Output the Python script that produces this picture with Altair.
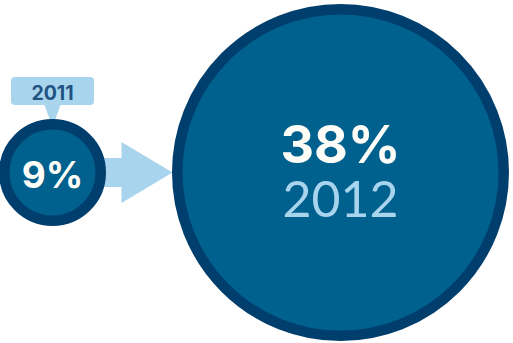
import altair as alt
import pandas as pd

# ---- data ----
years = [2011, 2012]
shares = [9, 38]
share_labels = ["9%", "38%"]
year_labels = ["2011", "2012"]

df = pd.DataFrame({
    "year": years,
    "share": shares,
    "label": share_labels,
    "year_label": year_labels,
})

# ---- style ----
DARK = "#003f6d"
MID = "#00608e"
LIGHT = "#a8d4ed"
WHITE = "#fffdf8"
LABEL_TXT = "#1f5382"
FONT = "Lato"
BOLD_FONT = "Inter"
CY = 172.5

x_enc = alt.X("year:Q", scale=alt.Scale(domain=[2011, 2012], range=[52.5, 340.5]), axis=None)
base = alt.Chart(df)

arrow_path = "M 40 -14.5 L 69 -14.5 L 69 -30.5 L 120 0 L 69 30.5 L 69 14.5 L 40 14.5 Z"
callout_path = ("M -37.5 -14 L 37.5 -14 Q 41.5 -14 41.5 -10 L 41.5 10 Q 41.5 14 37.5 14 "
                "L 8 14 L 0 36 L -8 14 L -37.5 14 Q -41.5 14 -41.5 10 L -41.5 -10 "
                "Q -41.5 -14 -37.5 -14 Z")

first = base.transform_filter("datum.year == 2011")
second = base.transform_filter("datum.year == 2012")

arrow = first.mark_point(shape=arrow_path, filled=True, opacity=1, color=LIGHT, strokeWidth=0).encode(
    x=x_enc, y=alt.value(CY), size=alt.value(4)
)

callout = first.mark_point(shape=callout_path, filled=True, opacity=1, color=LIGHT, strokeWidth=0).encode(
    x=x_enc, y=alt.value(91), size=alt.value(4)
)

circles = base.mark_point(shape="circle", filled=True, opacity=1, fill=MID, stroke=DARK,
                          strokeWidth=10.5, strokeOpacity=1).encode(
    x=x_enc,
    y=alt.value(CY),
    size=alt.Size("share:Q", scale=alt.Scale(domain=[9, 38], range=[96.5 ** 2, 326.5 ** 2], zero=False),
                  legend=None),
)

callout_text = first.mark_text(font=BOLD_FONT, fontWeight="bold", fontSize=19.5, color=LABEL_TXT,
                               baseline="alphabetic", align="center").encode(
    x=x_enc, y=alt.value(99.5), text="year_label:N"
)

small_pct = first.mark_text(font=BOLD_FONT, fontWeight="bold", fontSize=37, color=WHITE,
                            baseline="alphabetic", align="center").encode(
    x=x_enc, y=alt.value(187.5), text="label:N"
)

big_pct = second.mark_text(font=BOLD_FONT, fontWeight="bold", fontSize=52, color=WHITE,
                           baseline="alphabetic", align="center").encode(
    x=x_enc, y=alt.value(162.5), text="label:N"
)

big_year = second.mark_text(font=FONT, fontWeight="normal", fontSize=50, color=LIGHT,
                            baseline="alphabetic", align="center").encode(
    x=x_enc, y=alt.value(216.5), text="year_label:N"
)

chart = alt.layer(arrow, callout, circles, callout_text, small_pct, big_pct, big_year).properties(
    width=513, height=343, padding=0, autosize=alt.AutoSizeParams(type="none"), background="white"
).configure_view(stroke=None)

chart.save("out.html", embed_options={"renderer": "svg", "actions": False})
